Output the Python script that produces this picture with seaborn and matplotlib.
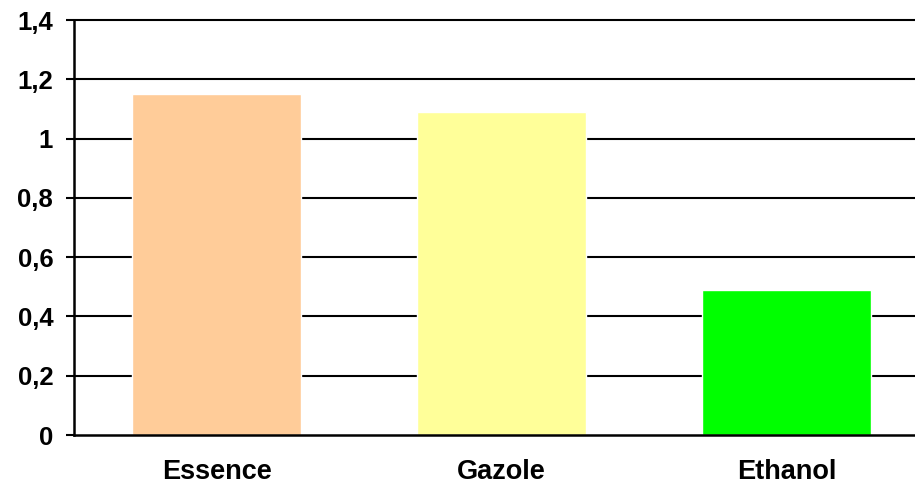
import matplotlib
matplotlib.use("Agg")
import matplotlib.pyplot as plt
import seaborn as sns
import pandas as pd
from matplotlib.ticker import FixedLocator

categories = ["Essence", "Gazole", "Ethanol"]
values = [1.15, 1.09, 0.49]
colors = ["#FFCC99", "#FFFF99", "#00FF00"]
yticks = [0, 0.2, 0.4, 0.6, 0.8, 1.0, 1.2, 1.4]
ytick_labels = ["0", "0,2", "0,4", "0,6", "0,8", "1", "1,2", "1,4"]

df = pd.DataFrame({"cat": categories, "val": values})

sns.set_style("white")
plt.rcParams["font.family"] = ["Liberation Sans", "DejaVu Sans"]
plt.rcParams["text.color"] = "black"
plt.rcParams["xtick.color"] = "black"
plt.rcParams["ytick.color"] = "black"

fig = plt.figure(figsize=(9.15, 4.86), dpi=100)
ax = fig.add_axes([74 / 915, 51 / 486, 855 / 915, 415 / 486])

sns.barplot(data=df, x="cat", y="val", hue="cat", palette=colors,
            width=0.593, legend=False, ax=ax, saturation=1, zorder=3)

ax.set_xlim(-0.5, 2.5)
ax.set_ylim(0, 1.4)
ax.set_yticks(yticks)
ax.set_yticklabels(ytick_labels, fontsize=18.5, fontweight="bold", color="black")
ax.set_xticks(range(len(categories)))
ax.set_xticklabels(categories, fontsize=19.5, fontweight="bold", color="black")
ax.xaxis.set_minor_locator(FixedLocator([-0.5, 0.5, 1.5, 2.5]))

for y in yticks[1:]:
    ax.axhline(y, color="black", lw=1.5, zorder=1, clip_on=False)

ax.tick_params(axis="x", which="major", length=0, pad=17.5)
ax.tick_params(axis="x", which="minor", length=6, width=1.5, direction="out", color="black")
ax.tick_params(axis="y", which="major", length=6, width=1.5, direction="out", color="black", pad=9, left=True)

ax.set_xlabel("")
ax.set_ylabel("")
for s in ["top", "right"]:
    ax.spines[s].set_visible(False)
for s in ["left", "bottom"]:
    ax.spines[s].set_color("black")
    ax.spines[s].set_linewidth(1.8)
    ax.spines[s].set_zorder(4)

fig.savefig("out.png", dpi=100)
